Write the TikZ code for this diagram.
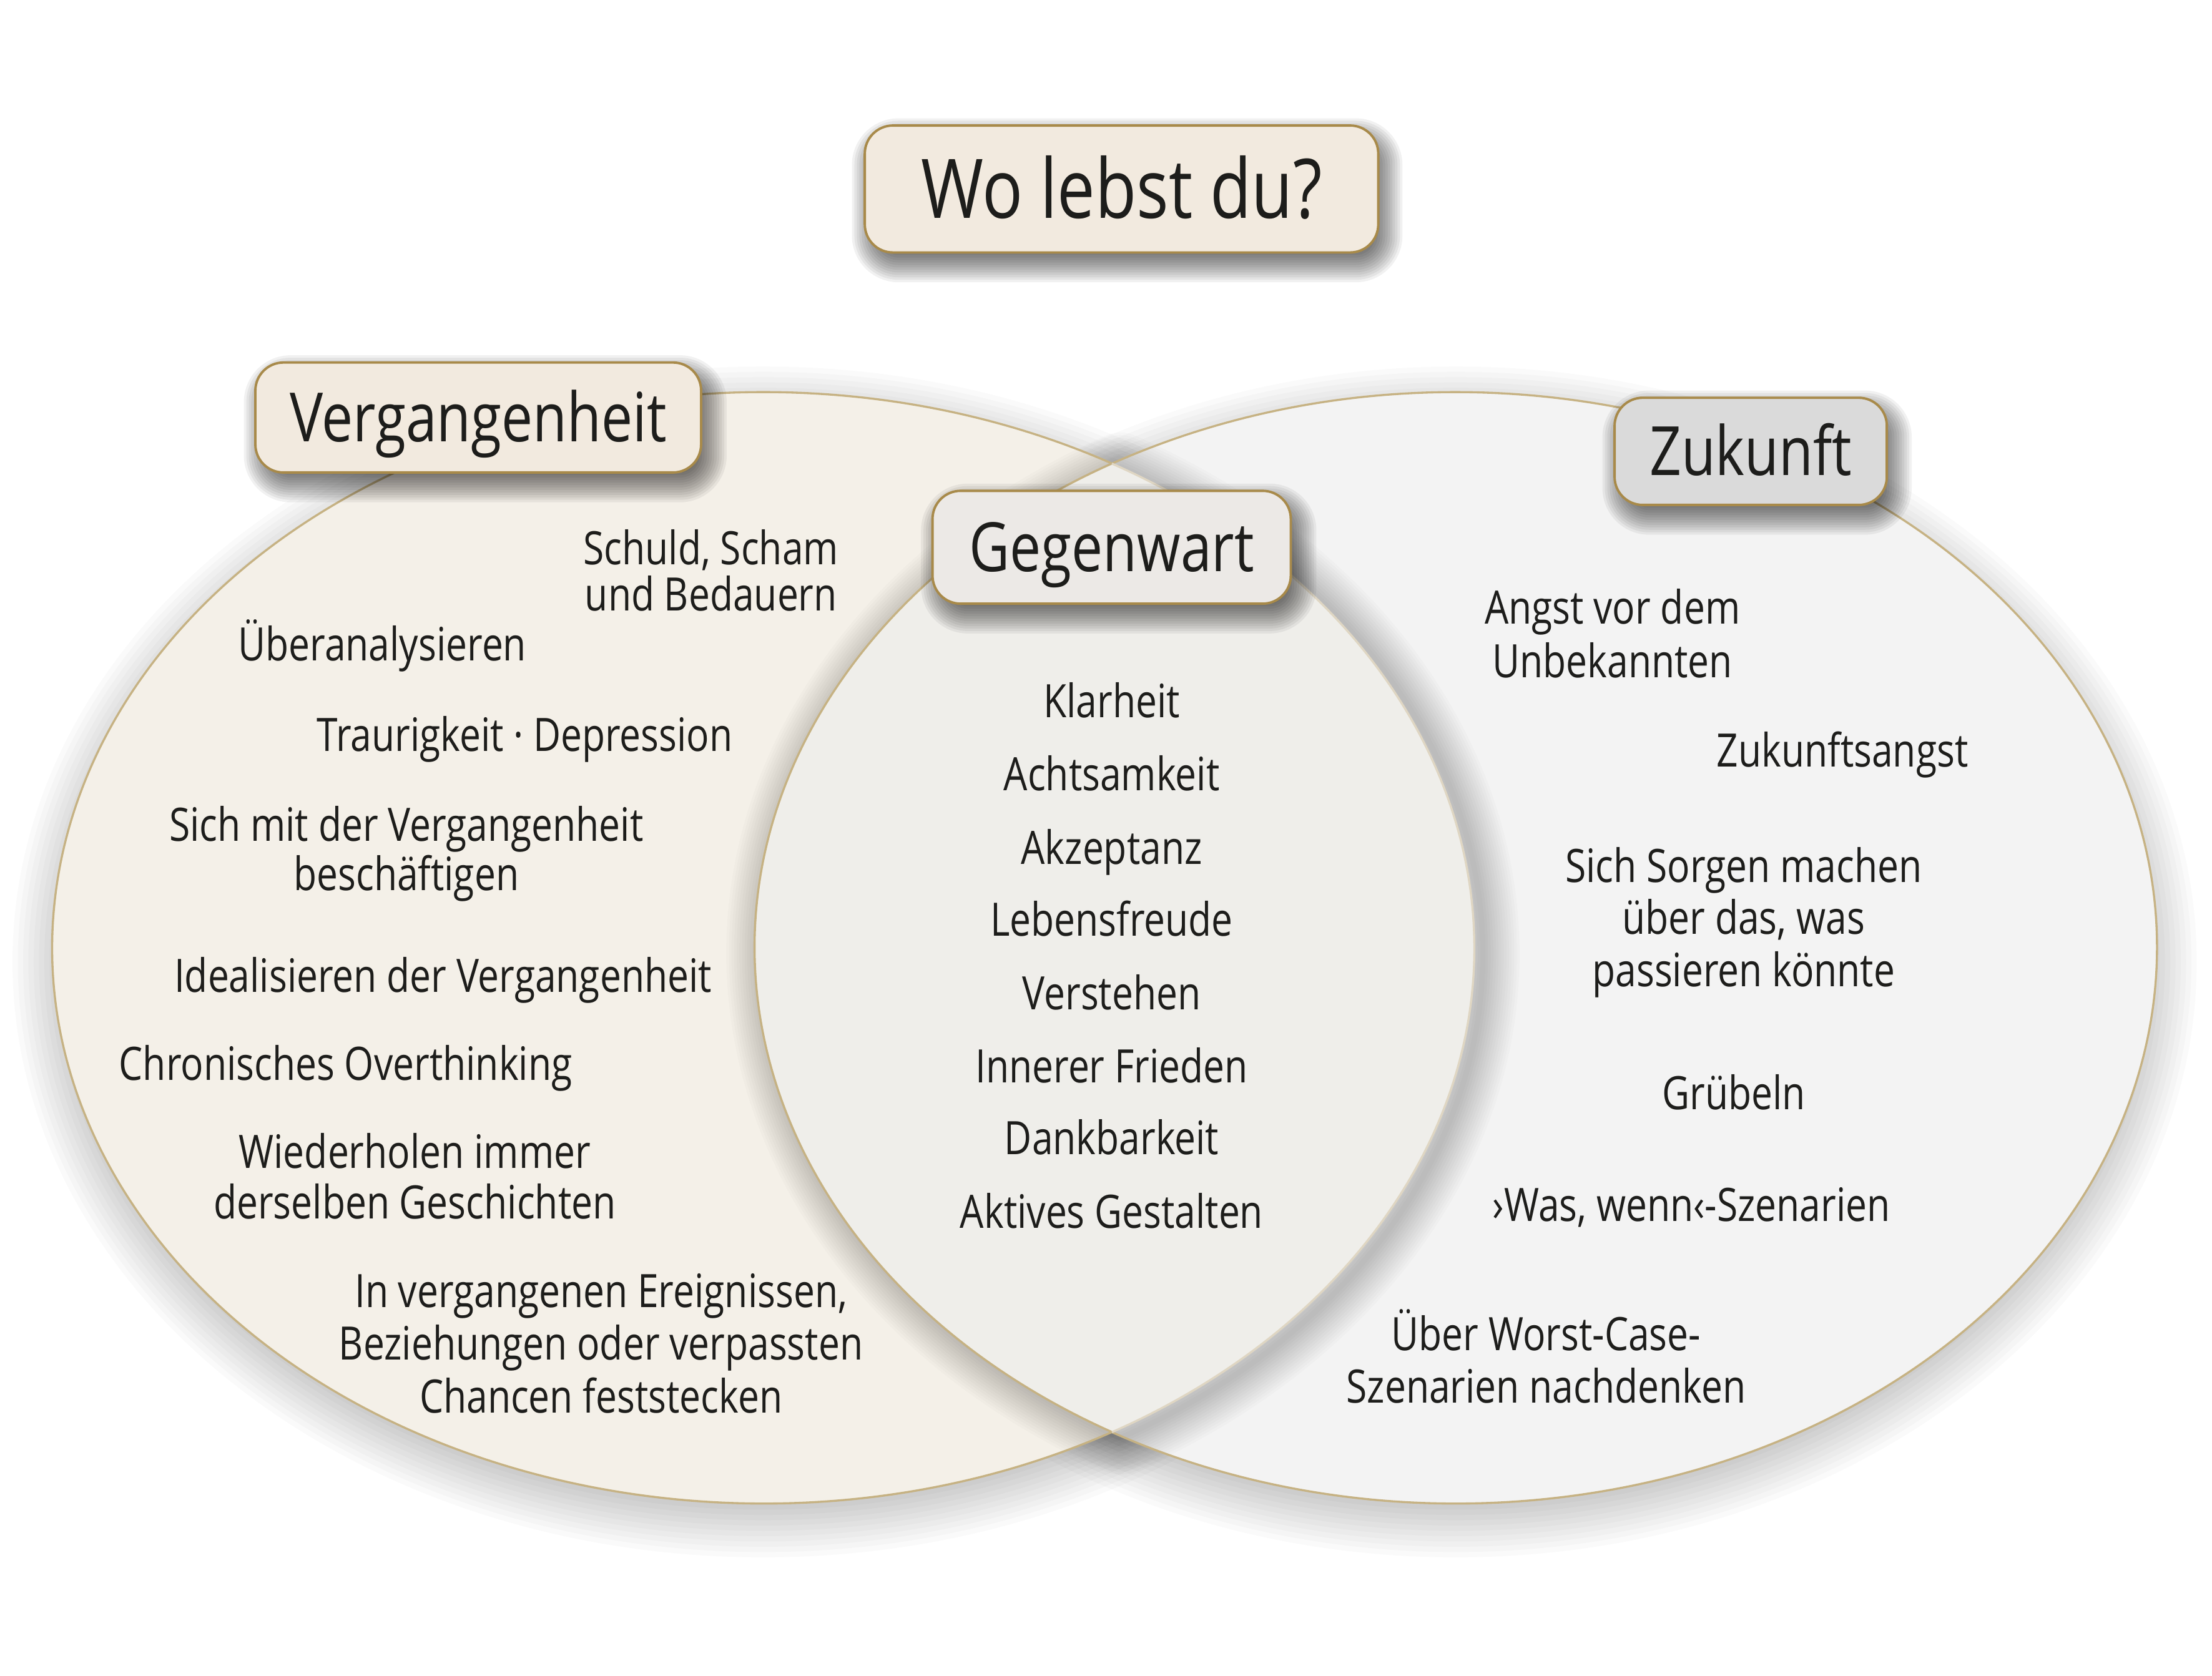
\documentclass[tikz,border=0pt]{standalone}
\usepackage{fontspec}
\newfontfamily\bodyfont[FakeStretch=0.82]{Open Sans}
\definecolor{pastfill}{HTML}{F4F0E8}
\definecolor{futfill}{HTML}{F3F3F3}
\definecolor{lensfill}{HTML}{EFEEEA}
\definecolor{rimgold}{HTML}{C6B283}
\definecolor{rimlight}{HTML}{DFD6C3}
\definecolor{boxgold}{HTML}{A88A4A}
\definecolor{creamfill}{HTML}{F2EADF}
\definecolor{presfill}{HTML}{ECE9E6}
\definecolor{greyfill}{HTML}{DADADA}
\definecolor{ink}{HTML}{1D1D1B}
% stroke-based soft shadow: [opts]{path}{dx}{dy}{radius}{alpha per step}
\newcommand\softshadow[6][]{%
  \foreach \k in {1,...,14}{%
    \draw[#1, line width=\k*#5*0.0032280cm, draw=black, opacity=#6, line join=round, shift={(#3,#4)}] #2;
  }}
% blurred shadow of a rounded box: {x1}{y1}{x2}{y2}
\newcommand\boxshadow[4]{%
  \foreach \k in {0,...,15}{%
    \pgfmathsetmacro\dd{14*(2*(\k+0.5)/16-1)}%
    \pgfmathsetmacro\rr{(20+\dd)*0.022596}%
    \fill[black, opacity=0.055, rounded corners=\rr cm] ({#1-\dd+5},{#2-\dd+8}) rectangle ({#3+\dd+5},{#4+\dd+8});
  }}
% blurred shadow of an ellipse: {cx}{cy}{rx}{ry}
\newcommand\ellshadow[4]{%
  \foreach \k in {0,...,15}{%
    \pgfmathsetmacro\dd{30*(2*(\k+0.5)/16-1)}%
    \fill[black, opacity=0.019] (#1,#2+10) ellipse [x radius={#3+\dd}, y radius={#4+\dd}];
  }}
\tikzset{
  labelbox/.style={draw=boxgold, line width=1.1pt, rounded corners=0.45cm, inner sep=0pt, text=ink,
    font=\bodyfont\fontsize{31pt}{36pt}\selectfont, text height=22.1pt, text depth=0pt},
  entry/.style={inner sep=0pt, text=ink, align=center, font=\bodyfont\fontsize{21pt}{#1}\selectfont},
  entry/.default=23.8pt,
  single/.style={entry, text height=15pt, text depth=0pt},
  rim/.style={draw=rimgold, line width=0.95pt},
}
\begin{document}
\begin{tikzpicture}[x=0.022596cm, y=-0.022596cm]
\useasboundingbox[fill=white] (0,0) rectangle (1568,1188);
% ellipse shadows
\ellshadow{541}{672}{504}{394}
\ellshadow{1032}{672}{497}{394}
% ellipse fills
\fill[pastfill] (541,672) ellipse [x radius=504, y radius=394];
\fill[futfill] (1032,672) ellipse [x radius=497, y radius=394];
% lens shadow and fill
\softshadow{(788.2,328.7) arc[start angle=-60.63, end angle=60.63, x radius=504, y radius=394] arc[start angle=119.37, end angle=240.63, x radius=497, y radius=394] -- cycle}{6}{4}{26}{0.015}
\fill[lensfill] (788.2,328.7) arc[start angle=-60.63, end angle=60.63, x radius=504, y radius=394] arc[start angle=119.37, end angle=240.63, x radius=497, y radius=394] -- cycle;
% outlines
\draw[rim] (788.2,1015.3) arc[start angle=60.63, end angle=299.37, x radius=504, y radius=394];
\draw[rim] (788.2,328.7) arc[start angle=240.63, end angle=479.37, x radius=497, y radius=394];
\draw[rim] (788.2,1015.3) arc[start angle=119.37, end angle=240.63, x radius=497, y radius=394];
\draw[rim, draw=rimlight] (788.2,328.7) arc[start angle=-60.63, end angle=60.63, x radius=504, y radius=394];
% box shadows
\boxshadow{612}{89}{976}{179}
\boxshadow{181}{257}{497}{335}
\boxshadow{661}{348}{915}{428}
\boxshadow{1144}{282}{1337}{358}
% boxes
\node[labelbox, fill=creamfill, minimum width=8.225cm, minimum height=2.034cm,
  font=\bodyfont\fontsize{37.5pt}{44pt}\selectfont, text height=26.8pt] (title) at (795,134) {Wo lebst du?};
\node[labelbox, fill=creamfill, minimum width=7.140cm, minimum height=1.762cm] (past) at (339,296) {Vergangenheit};
\node[labelbox, fill=presfill, minimum width=5.739cm, minimum height=1.808cm] (present) at (788,388) {Gegenwart};
\node[labelbox, fill=greyfill, minimum width=4.361cm, minimum height=1.717cm] (future) at (1241,320) {Zukunft};
% past entries
\node[entry=21.2pt] (p1) at (504,404.5) {Schuld, Scham\\und Bedauern};
\node[single] (p2) at (271,457) {Überanalysieren};
\node[single] (p3) at (372,521) {Traurigkeit · Depression};
\node[entry=22.5pt] (p4) at (288,605.5) {Sich mit der Vergangenheit\\beschäftigen};
\node[single] (p5) at (314,692) {Idealisieren der Vergangenheit};
\node[single] (p6) at (245,754) {Chronisches Overthinking};
\node[entry=23.1pt] (p7) at (294,834) {Wiederholen immer\\derselben Geschichten};
\node[entry=24.1pt] (p8) at (426,952.5) {In vergangenen Ereignissen,\\Beziehungen oder verpassten\\Chancen feststecken};
% present entries
\node[single] (m1) at (788,497) {Klarheit};
\node[single] (m2) at (788,549) {Achtsamkeit};
\node[single] (m3) at (788,601) {Akzeptanz};
\node[single] (m4) at (788,652) {Lebensfreude};
\node[single] (m5) at (788,704) {Verstehen};
\node[single] (m6) at (788,756) {Innerer Frieden};
\node[single] (m7) at (788,807) {Dankbarkeit};
\node[single] (m8) at (788,859) {Aktives Gestalten};
% future entries
\node[entry=24.4pt] (f1) at (1143,449) {Angst vor dem\\Unbekannten};
\node[single] (f2) at (1306,532) {Zukunftsangst};
\node[entry] (f3) at (1236,654) {Sich Sorgen machen\\über das, was\\passieren könnte};
\node[single] (f4) at (1229,775) {Grübeln};
\node[single] (f5) at (1199,854) {›Was, wenn‹-Szenarien};
\node[entry] (f6) at (1096,961.5) {Über Worst-Case-\\Szenarien nachdenken};
\end{tikzpicture}
\end{document}
